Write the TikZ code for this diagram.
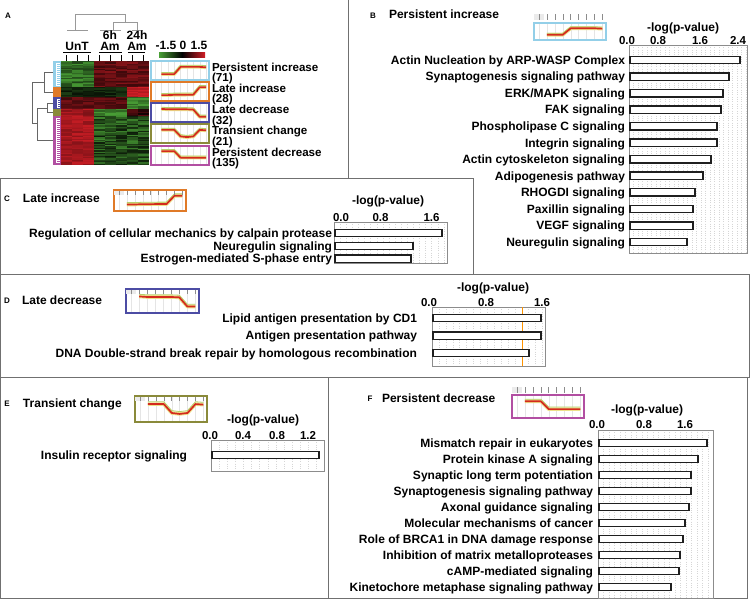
\documentclass[tikz,border=0pt]{standalone}
\usepackage{fontspec}
\setmainfont{Liberation Sans}
\usetikzlibrary{calc}
\definecolor{frame}{HTML}{707070}
\definecolor{cblue}{HTML}{93CFE8}
\definecolor{corange}{HTML}{E07A28}
\definecolor{cdblue}{HTML}{4C4CA4}
\definecolor{colive}{HTML}{8A8A3A}
\definecolor{cmag}{HTML}{B24FA2}
\definecolor{hgreen}{HTML}{52B23C}
\definecolor{hred}{HTML}{D21E26}
\definecolor{tred}{HTML}{D42A1E}
\definecolor{tyel}{HTML}{EDE08A}
\definecolor{tgrn}{HTML}{B5CF6A}
\definecolor{dendc}{HTML}{666666}
\tikzset{
  every node/.style={inner sep=0pt, outer sep=0pt},
  lbl/.style={font=\fontsize{12}{13}\selectfont\bfseries},
  clbl/.style={font=\fontsize{11.6}{12}\selectfont\bfseries},
  ticklbl/.style={font=\fontsize{11.5}{12}\selectfont\bfseries},
  letter/.style={font=\fontsize{8}{9}\selectfont\bfseries},
  panelframe/.style={draw=frame, line width=1pt},
  plotbox/.style={draw=black!45, line width=0.6pt},
  gridl/.style={draw=black!16, line width=0.35pt, dotted},
  barst/.style={draw=black!88, line width=1.4pt, fill=white},
  dend/.style={draw=dendc, line width=0.8pt},
  cdend/.style={draw=black!40, line width=0.8pt},
  thumbgrid/.style={draw=black!10, line width=0.3pt},
  hdrtick/.style={draw=black!45, line width=0.5pt},
}
% heatmap: ytop, nrows, rowh, colfrom, colto, color, minpct, range
\newcommand{\hmcols}[8]{%
  \foreach \r in {1,...,#2}{%
    \foreach \c in {#4,...,#5}{%
      \pgfmathtruncatemacro{\pct}{#7+#8*rnd}%
      \fill[#6!\pct!black] ({61+11*(\c-1)},{#1+#3*(\r-1)}) rectangle ++(11.2,{#3+0.3});
    }%
  }%
}
% trend thumbnail: name, x, y, w, h, frame colour, values
\newcommand{\trend}[7]{%
  \foreach \i in {0,...,8}{\draw[thumbgrid] ({#2+#4*(0.18+0.11*(\i-1))},#3) -- ++(0,#5);}%
  \foreach \v [count=\i] in {#7}{%
    \coordinate (#1-\i) at ({#2+#4*(0.18+0.11*(\i-1))},{#3+#5*(0.88-0.76*\v)});%
    \coordinate (#1g-\i) at ({#2+#4*(0.18+0.11*(\i-1))},{#3+#5*(0.79-0.76*\v)});%
  }%
  \draw[tyel, line width=3.6pt, line join=round] (#1-1)--(#1-2)--(#1-3)--(#1-4)--(#1-5)--(#1-6)--(#1-7)--(#1-8);%
  \draw[tgrn, line width=0.8pt, line join=round] (#1g-1)--(#1g-2)--(#1g-3)--(#1g-4)--(#1g-5)--(#1g-6)--(#1g-7)--(#1g-8);%
  \draw[tred, line width=1.7pt, line join=round] (#1-1)--(#1-2)--(#1-3)--(#1-4)--(#1-5)--(#1-6)--(#1-7)--(#1-8);%
  \draw[#6, line width=1.3pt] (#2,#3) rectangle ++(#4,#5);%
}
% header ticks: x, w, y1, y2
\newcommand{\tticks}[4]{%
  \fill[black!8] (#1,#3) rectangle ++(10,{#4-#3});%
  \foreach \i in {0,...,8}{\draw[hdrtick] ({#1+#2*(0.18+0.11*(\i-1))},#3) -- ({#1+#2*(0.18+0.11*(\i-1))},#4);}%
}
% plot frame: x0,y0,x1,y1,gridstep
\newcommand{\plotframe}[5]{%
  \pgfmathtruncatemacro{\ng}{(#3-#1)/#5}%
  \foreach \k in {1,...,\ng}{\draw[gridl] ({#1+\k*#5},#2) -- ({#1+\k*#5},#4);}%
  \draw[plotbox] (#1,#2) rectangle (#3,#4);%
}
% bar row: name, labelx, barx0, y, barend, text
\newcommand{\barrow}[6]{%
  \node[lbl, anchor=base east] (#1) at (#2,{#4+4.3}) {#6};%
  \draw[barst] (#3,{#4-3.7}) rectangle (#5,{#4+3.7});%
}
\begin{document}
\begin{tikzpicture}[x=1pt,y=-1pt]
\useasboundingbox (0,0) rectangle (750,600);
\fill[white] (0,0) rectangle (750,600);
\pgfmathsetseed{7}

% ---------- frames
\draw[panelframe] (348,0) -- (348,178);
\draw[panelframe] (0.5,178) rectangle (473,274);
\draw[panelframe] (0.5,274) rectangle (749,377);
\draw[panelframe] (0.5,377) rectangle (747,598);
\draw[panelframe] (328,377) -- (328,598);

% ---------- Panel A
\node[letter, anchor=base] (lA) at (8,18) {A};
% column dendrogram
\draw[cdend] (75,30) -- (75,14) -- (125,14) -- (125,22);
\draw[cdend] (113,30) -- (113,22) -- (137,22) -- (137,30);
\draw[cdend] (67,30) -- (88,30);
\draw[cdend] (100,30) -- (121,30);
\draw[cdend] (132,30) -- (143,30);
% column labels
\node[lbl, anchor=base] (cUnT) at (77,50.5) {UnT};
\node[lbl, anchor=base] (c6h) at (110,39.3) {6h};
\node[lbl, anchor=base] (cAm1) at (110,50.5) {Am};
\node[lbl, anchor=base] (c24h) at (137,39.3) {24h};
\node[lbl, anchor=base] (cAm2) at (137,50.5) {Am};
\draw[line width=1.2pt] (63,52.8) -- (91,52.8);
\draw[line width=1.2pt] (99,52.8) -- (122,52.8);
\draw[line width=1.2pt] (128,52.8) -- (145,52.8);
\foreach \c in {1,...,8}{\draw[line width=0.8pt] ({66.5+11*(\c-1)},55) -- ++(0,6);}
% heatmap
\hmcols{61}{20}{1.3}{1}{3}{hgreen}{35}{50}
\hmcols{61}{20}{1.3}{4}{6}{hred}{30}{35}
\hmcols{61}{20}{1.3}{7}{8}{hred}{30}{40}
\hmcols{87}{8}{1.25}{1}{3}{hgreen}{10}{25}
\hmcols{87}{8}{1.25}{4}{6}{hgreen}{10}{25}
\hmcols{87}{8}{1.25}{7}{8}{hred}{80}{20}
\hmcols{97}{9}{1.333}{1}{3}{hred}{30}{30}
\hmcols{97}{9}{1.333}{4}{6}{hred}{25}{30}
\hmcols{97}{9}{1.333}{7}{8}{hgreen}{50}{40}
\hmcols{109}{5}{1.4}{1}{3}{hred}{60}{30}
\hmcols{109}{5}{1.4}{4}{6}{hgreen}{50}{40}
\hmcols{109}{5}{1.4}{7}{8}{hred}{10}{40}
\hmcols{116}{37}{1.324}{1}{3}{hred}{65}{30}
\hmcols{116}{37}{1.324}{4}{6}{hgreen}{15}{65}
\hmcols{116}{37}{1.324}{7}{8}{hgreen}{15}{60}
% cluster colour bars
\fill[cblue] (53,61) rectangle (61,87);
\fill[corange] (53,87) rectangle (61,97);
\fill[cdblue] (53,97) rectangle (61,109);
\fill[colive] (53,109) rectangle (61,116);
\fill[cmag] (53,116) rectangle (61,165.3);
\draw[white, line width=0.4pt] (56,63) -- (56,85);
\foreach \yy in {63,65,...,85}{\draw[white, line width=0.3pt] (56,\yy) -- (60,\yy);}
\draw[white, line width=0.4pt] (56,118) -- (56,163);
\foreach \yy in {118,120,...,163}{\draw[white, line width=0.3pt] (56,\yy) -- (60,\yy);}
\draw[white, line width=0.3pt] (57,99) -- (57,107);
\foreach \yy in {99,101,...,107}{\draw[white, line width=0.3pt] (57,\yy) -- (60,\yy);}
% row dendrogram
\draw[dend] (53,72) -- (44,72) -- (44,92) -- (53,92);
\draw[dend] (44,82) -- (32,82) -- (32,123) -- (37,123);
\draw[dend] (53,103) -- (47,103) -- (47,112.5) -- (53,112.5);
\draw[dend] (47,108) -- (37,108) -- (37,140) -- (53,140);
% colour scale
\shade[left color=hgreen!90!black, right color=hred, middle color=black] (159,52) rectangle (205,57);
\node[lbl, anchor=base] (cs1) at (166,49.5) {-1.5};
\node[lbl, anchor=base] (cs2) at (183,49.5) {0};
\node[lbl, anchor=base] (cs3) at (199,49.5) {1.5};
% cluster thumbnails
\trend{tA1}{151}{61}{58}{19}{cblue}{0.25,0.25,0.25,0.75,0.75,0.75,0.75,0.72}
\trend{tA2}{151}{82}{58}{19}{corange}{0.25,0.25,0.27,0.27,0.28,0.28,0.8,0.8}
\trend{tA3}{151}{103}{58}{19}{cdblue}{0.75,0.72,0.72,0.72,0.72,0.7,0.2,0.2}
\trend{tA4}{151}{124}{58}{19}{colive}{0.75,0.75,0.75,0.3,0.25,0.3,0.75,0.72}
\trend{tA5}{151}{146}{58}{19}{cmag}{0.8,0.8,0.8,0.35,0.35,0.35,0.35,0.35}
\node[clbl, anchor=base west] (a1) at (212,71.2) {Persistent increase};
\node[clbl, anchor=base west] (a1n) at (212,81.6) {(71)};
\node[clbl, anchor=base west] (a2) at (212,92.4) {Late increase};
\node[clbl, anchor=base west] (a2n) at (212,102.8) {(28)};
\node[clbl, anchor=base west] (a3) at (212,113.6) {Late decrease};
\node[clbl, anchor=base west] (a3n) at (212,124) {(32)};
\node[clbl, anchor=base west] (a4) at (212,134.6) {Transient change};
\node[clbl, anchor=base west] (a4n) at (212,145.3) {(21)};
\node[clbl, anchor=base west] (a5) at (212,156) {Persistent decrease};
\node[clbl, anchor=base west] (a5n) at (212,166.4) {(135)};

% ---------- Panel B
\node[letter, anchor=base] (lB) at (373,18) {B};
\node[lbl, anchor=base west] (tB) at (389,18.3) {Persistent increase};
\tticks{534}{72}{14}{20}
\trend{tB}{534}{23}{72}{17}{cblue}{0.25,0.25,0.25,0.75,0.75,0.75,0.75,0.72}
\node[lbl, anchor=base] (xB) at (683,31.3) {-log(p-value)};
\node[ticklbl, anchor=base] (xB0) at (627,44) {0.0};
\node[ticklbl, anchor=base] (xB1) at (658,44) {0.8};
\node[ticklbl, anchor=base] (xB2) at (700,44) {1.6};
\node[ticklbl, anchor=base] (xB3) at (738,44) {2.4};
\plotframe{629}{45}{747}{253}{4.5}
\barrow{b1}{625}{630}{60}{740}{Actin Nucleation by ARP-WASP Complex}
\barrow{b2}{625}{630}{76.5}{729}{Synaptogenesis signaling pathway}
\barrow{b3}{625}{630}{93.1}{723}{ERK/MAPK signaling}
\barrow{b4}{625}{630}{109.6}{721}{FAK signaling}
\barrow{b5}{625}{630}{126.2}{717}{Phospholipase C signaling}
\barrow{b6}{625}{630}{142.7}{717}{Integrin signaling}
\barrow{b7}{625}{630}{159.3}{711}{Actin cytoskeleton signaling}
\barrow{b8}{625}{630}{175.8}{703}{Adipogenesis pathway}
\barrow{b9}{625}{630}{192.4}{695}{RHOGDI signaling}
\barrow{b10}{625}{630}{208.9}{693}{Paxillin signaling}
\barrow{b11}{625}{630}{225.5}{693}{VEGF signaling}
\barrow{b12}{625}{630}{242}{687}{Neuregulin signaling}

% ---------- Panel C
\node[letter, anchor=base] (lC) at (7,201) {C};
\node[lbl, anchor=base west] (tC) at (23,202.3) {Late increase};
\trend{tC}{114}{190}{72}{21}{corange}{0.25,0.25,0.27,0.27,0.28,0.28,0.8,0.8}
\tticks{114}{72}{191}{195}
\node[lbl, anchor=base] (xC) at (388,204.3) {-log(p-value)};
\node[ticklbl, anchor=base] (xC0) at (341,221) {0.0};
\node[ticklbl, anchor=base] (xC1) at (380.5,221) {0.8};
\node[ticklbl, anchor=base] (xC2) at (431.5,221) {1.6};
\plotframe{334}{222}{447}{263}{6.1}
\barrow{c1}{332}{335}{233}{442}{Regulation of cellular mechanics by calpain protease}
\barrow{c2}{332}{335}{246}{413}{Neuregulin signaling}
\barrow{c3}{332}{335}{258.5}{411}{Estrogen-mediated S-phase entry}

% ---------- Panel D
\node[letter, anchor=base] (lD) at (7,303) {D};
\node[lbl, anchor=base west] (tD) at (22,304.3) {Late decrease};
\trend{tD}{126}{289}{73}{24}{cdblue}{0.75,0.72,0.72,0.72,0.72,0.7,0.2,0.2}
\tticks{126}{73}{290}{294}
\node[lbl, anchor=base] (xD) at (493,291.3) {-log(p-value)};
\node[ticklbl, anchor=base] (xD0) at (429,306) {0.0};
\node[ticklbl, anchor=base] (xD1) at (486,306) {0.8};
\node[ticklbl, anchor=base] (xD2) at (542,306) {1.6};
\plotframe{432}{307}{545}{366}{6.9}
\draw[orange!85!yellow, line width=0.5pt] (522,307) -- (522,366);
\barrow{d1}{417}{433}{318}{541}{Lipid antigen presentation by CD1}
\barrow{d2}{417}{433}{335.5}{541}{Antigen presentation pathway}
\barrow{d3}{417}{433}{353}{529}{DNA Double-strand break repair by homologous recombination}

% ---------- Panel E
\node[letter, anchor=base] (lE) at (7,406) {E};
\node[lbl, anchor=base west] (tE) at (23,407.3) {Transient change};
\trend{tE}{135}{396}{72}{26}{colive}{0.75,0.75,0.75,0.3,0.25,0.3,0.75,0.72}
\tticks{135}{72}{397}{401}
\node[lbl, anchor=base] (xE) at (263,423.3) {-log(p-value)};
\node[ticklbl, anchor=base] (xE0) at (210,439) {0.0};
\node[ticklbl, anchor=base] (xE1) at (243,439) {0.4};
\node[ticklbl, anchor=base] (xE2) at (277,439) {0.8};
\node[ticklbl, anchor=base] (xE3) at (308,439) {1.2};
\plotframe{211}{440}{324}{471}{8.1}
\barrow{e1}{187}{212}{455}{319}{Insulin receptor signaling}

% ---------- Panel F
\node[letter, anchor=base] (lF) at (370,401) {F};
\node[lbl, anchor=base west] (tF) at (382,402.3) {Persistent decrease};
\tticks{512}{72}{387}{393}
\trend{tF}{512}{395}{72}{23}{cmag}{0.8,0.8,0.8,0.35,0.35,0.35,0.35,0.35}
\node[lbl, anchor=base] (xF) at (647,413.3) {-log(p-value)};
\node[ticklbl, anchor=base] (xF0) at (597,428) {0.0};
\node[ticklbl, anchor=base] (xF1) at (644,428) {0.8};
\node[ticklbl, anchor=base] (xF2) at (685,428) {1.6};
\plotframe{598}{430}{713}{598}{5.5}
\barrow{f1}{593}{599}{443}{707}{Mismatch repair in eukaryotes}
\barrow{f2}{593}{599}{459}{698}{Protein kinase A signaling}
\barrow{f3}{593}{599}{475}{691}{Synaptic long term potentiation}
\barrow{f4}{593}{599}{491}{691}{Synaptogenesis signaling pathway}
\barrow{f5}{593}{599}{507}{689}{Axonal guidance signaling}
\barrow{f6}{593}{599}{523}{685}{Molecular mechanisms of cancer}
\barrow{f7}{593}{599}{539}{683}{Role of BRCA1 in DNA damage response}
\barrow{f8}{593}{599}{555}{680}{Inhibition of matrix metalloproteases}
\barrow{f9}{593}{599}{571}{679}{cAMP-mediated signaling}
\barrow{f10}{593}{599}{587}{671}{Kinetochore metaphase signaling pathway}
\end{tikzpicture}
\end{document}
